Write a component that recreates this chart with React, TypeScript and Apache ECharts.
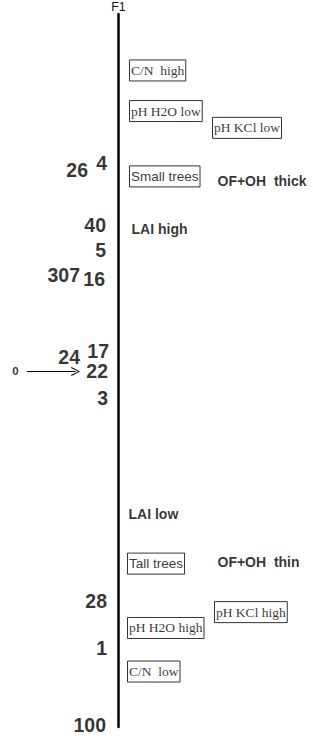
import React, { useEffect, useRef } from 'react';
import * as echarts from 'echarts';

// Site numbers placed at their F1 score (vertical axis)
const siteNames = ['4', '26', '40', '5', '307', '16', '17', '24', '22', '3', '28', '1', '100'];
const siteF1 = [2.1, 2.02, 1.47, 1.22, 0.96, 0.92, 0.2, 0.14, -0.01, -0.28, -2.33, -2.8, -3.58];
// horizontal anchor (right edge) relative to the F1 axis
const siteOffset = [-11, -30, -12, -12, -38, -13, -9, -38, -10, -10, -11, -11, -12];

// Variable descriptors (boxed, serif)
const serifNames = ['C/N  high', 'pH H2O low', 'pH KCl low', 'pH KCl high', 'pH H2O high', 'C/N  low'];
const serifF1 = [3.03, 2.62, 2.45, -2.44, -2.6, -3.04];
const serifOffset = [10.5, 10.5, 93.5, 95.5, 8.5, 8.5];

// Variable descriptors (boxed, sans)
const treeNames = ['Small trees', 'Tall trees'];
const treeF1 = [1.96, -1.95];
const treeOffset = [10.5, 8.5];

// Variable descriptors (bold, unboxed)
const boldNames = ['OF+OH  thick', 'LAI high', 'LAI low', 'OF+OH  thin'];
const boldF1 = [1.91, 1.43, -1.45, -1.93];
const boldOffset = [98.5, 12.5, 9.5, 98.5];

// Supplementary point "0" with arrow to site 22
const suppName = '0';
const suppF1 = -0.01;
const suppOffset = -103;
const arrowFrom = -91.5;
const arrowTo = -43;

const pts = (names: string[], f1: number[], xs: number[]) =>
  names.map((n, i) => ({ name: n, value: [xs[i], f1[i]] }));

export default function App() {
  const ref = useRef<HTMLDivElement>(null);
  useEffect(() => {
    const chart = echarts.init(ref.current!, null, { renderer: 'svg' });
    const base = {
      type: 'scatter',
      symbol: 'circle',
      symbolSize: 1,
      itemStyle: { color: 'rgba(0,0,0,0)' },
      silent: true,
      emphasis: { disabled: true },
    };
    chart.setOption({
      animation: false,
      grid: { left: 0, right: 0, top: 14, bottom: 15 },
      xAxis: { type: 'value', min: -118.5, max: 194.5, show: false },
      yAxis: {
        type: 'value',
        min: -3.6,
        max: 3.6,
        axisLine: { show: true, onZero: true, lineStyle: { color: '#000', width: 2.5 } },
        axisTick: { show: false },
        axisLabel: { show: false },
        splitLine: { show: false },
        name: 'F1',
        nameLocation: 'end',
        nameGap: 1,
        nameTextStyle: { color: '#111', fontSize: 12.5, fontFamily: 'Liberation Sans' },
      },
      series: [
        {
          ...base,
          data: pts(siteNames, siteF1, siteOffset),
          label: {
            show: true,
            position: 'left',
            distance: 0,
            formatter: '{b}',
            color: '#000',
            fontSize: 19.5,
            fontWeight: 'bold',
            fontFamily: 'Liberation Sans',
          },
          markLine: {
            silent: true,
            symbol: ['none', 'path://M0,10 L5,0 L10,10 L9,10.6 L5,2.2 L1,10.6 Z'],
            symbolSize: 9,
            label: { show: false },
            emphasis: { disabled: true },
            lineStyle: { color: '#000', width: 1, type: 'solid' },
            data: [[{ coord: [arrowFrom, suppF1] }, { coord: [arrowTo, suppF1] }]],
          },
        },
        {
          ...base,
          data: [{ name: suppName, value: [suppOffset, suppF1] }],
          label: {
            show: true,
            position: 'inside',
            formatter: '{b}',
            color: '#000',
            fontSize: 11.5,
            fontWeight: 'bold',
            fontFamily: 'Liberation Sans',
          },
        },
        {
          ...base,
          data: pts(serifNames, serifF1, serifOffset),
          label: {
            show: true,
            position: 'right',
            distance: 0,
            formatter: '{b}',
            color: '#000',
            fontSize: 13.5,
            fontFamily: 'Liberation Serif',
            borderColor: '#000',
            borderWidth: 1,
            padding: [3, 1.5, 3, 1.5],
            lineHeight: 15,
          },
        },
        {
          ...base,
          data: pts(treeNames, treeF1, treeOffset),
          label: {
            show: true,
            position: 'right',
            distance: 0,
            formatter: '{b}',
            color: '#000',
            fontSize: 13.5,
            fontFamily: 'Liberation Sans',
            borderColor: '#000',
            borderWidth: 1,
            padding: [3, 1.5, 3, 1.5],
            lineHeight: 15,
          },
        },
        {
          ...base,
          data: pts(boldNames, boldF1, boldOffset),
          label: {
            show: true,
            position: 'right',
            distance: 0,
            formatter: '{b}',
            color: '#000',
            fontSize: 14,
            fontWeight: 'bold',
            fontFamily: 'Liberation Sans',
          },
        },
      ],
    });
    return () => chart.dispose();
  }, []);
  return (
    <div
      ref={ref}
      style={{ position: 'absolute', left: 0, top: 0, width: 313, height: 742, background: '#fff' }}
    />
  );
}
